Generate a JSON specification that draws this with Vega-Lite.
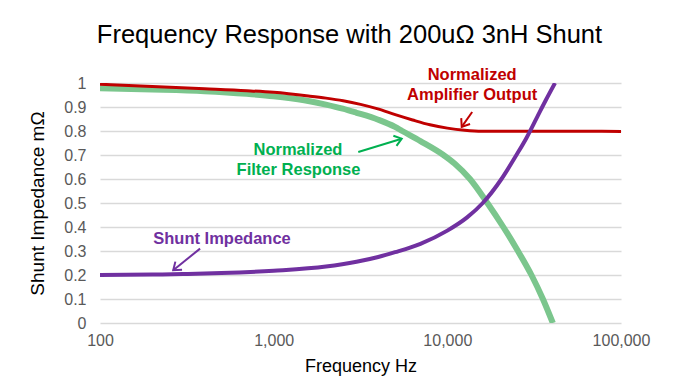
{
  "$schema": "https://vega.github.io/schema/vega-lite/v6.json",
  "width": 521,
  "height": 240,
  "autosize": {"type": "none"},
  "padding": {"left": 100, "top": 83, "right": 66, "bottom": 69},
  "background": "white",
  "config": {"font": "Liberation Sans", "view": {"stroke": null}},
  "title": {"text": "Frequency Response with 200uΩ 3nH Shunt", "fontSize": 25.5, "fontWeight": "normal", "color": "#000000", "anchor": "middle", "dx": -11, "offset": 19},
  "datasets": {
    "curves": [
      {"series": "amp", "f": 100, "v": 0.995},
      {"series": "amp", "f": 200, "v": 0.985},
      {"series": "amp", "f": 400, "v": 0.976},
      {"series": "amp", "f": 700, "v": 0.968},
      {"series": "amp", "f": 1000, "v": 0.961},
      {"series": "amp", "f": 1585, "v": 0.946},
      {"series": "amp", "f": 2000, "v": 0.937},
      {"series": "amp", "f": 2512, "v": 0.926},
      {"series": "amp", "f": 3162, "v": 0.911},
      {"series": "amp", "f": 3981, "v": 0.892},
      {"series": "amp", "f": 5012, "v": 0.868},
      {"series": "amp", "f": 6310, "v": 0.846},
      {"series": "amp", "f": 7943, "v": 0.826},
      {"series": "amp", "f": 10000, "v": 0.812},
      {"series": "amp", "f": 12589, "v": 0.803},
      {"series": "amp", "f": 15849, "v": 0.799},
      {"series": "amp", "f": 20000, "v": 0.799},
      {"series": "amp", "f": 50000, "v": 0.799},
      {"series": "amp", "f": 100000, "v": 0.798},
      {"series": "filter", "f": 100, "v": 0.978},
      {"series": "filter", "f": 200, "v": 0.973},
      {"series": "filter", "f": 400, "v": 0.966},
      {"series": "filter", "f": 700, "v": 0.955},
      {"series": "filter", "f": 1000, "v": 0.945},
      {"series": "filter", "f": 1500, "v": 0.928},
      {"series": "filter", "f": 2000, "v": 0.91},
      {"series": "filter", "f": 2500, "v": 0.893},
      {"series": "filter", "f": 3000, "v": 0.876},
      {"series": "filter", "f": 4000, "v": 0.847},
      {"series": "filter", "f": 5000, "v": 0.817},
      {"series": "filter", "f": 5500, "v": 0.8},
      {"series": "filter", "f": 7000, "v": 0.758},
      {"series": "filter", "f": 9500, "v": 0.7},
      {"series": "filter", "f": 11000, "v": 0.665},
      {"series": "filter", "f": 13500, "v": 0.6},
      {"series": "filter", "f": 17000, "v": 0.5},
      {"series": "filter", "f": 21000, "v": 0.4},
      {"series": "filter", "f": 25500, "v": 0.3},
      {"series": "filter", "f": 30500, "v": 0.2},
      {"series": "filter", "f": 35500, "v": 0.1},
      {"series": "filter", "f": 40500, "v": 0.0},
      {"series": "shunt", "f": 100, "v": 0.2},
      {"series": "shunt", "f": 200, "v": 0.202},
      {"series": "shunt", "f": 300, "v": 0.204},
      {"series": "shunt", "f": 500, "v": 0.208},
      {"series": "shunt", "f": 1000, "v": 0.218},
      {"series": "shunt", "f": 2000, "v": 0.235},
      {"series": "shunt", "f": 3000, "v": 0.255},
      {"series": "shunt", "f": 4000, "v": 0.275},
      {"series": "shunt", "f": 5000, "v": 0.295},
      {"series": "shunt", "f": 7000, "v": 0.33},
      {"series": "shunt", "f": 10000, "v": 0.385},
      {"series": "shunt", "f": 13000, "v": 0.44},
      {"series": "shunt", "f": 16000, "v": 0.5},
      {"series": "shunt", "f": 20500, "v": 0.6},
      {"series": "shunt", "f": 25000, "v": 0.7},
      {"series": "shunt", "f": 28500, "v": 0.77},
      {"series": "shunt", "f": 33000, "v": 0.86},
      {"series": "shunt", "f": 37000, "v": 0.93},
      {"series": "shunt", "f": 41700, "v": 1.0}
    ],
    "notes": [
      {"series": "amp", "label": "Normalized", "f": 13900, "v": 1.032},
      {"series": "amp", "label": "Amplifier Output", "f": 13900, "v": 0.949},
      {"series": "filter", "label": "Normalized", "f": 1380, "v": 0.72},
      {"series": "filter", "label": "Filter Response", "f": 1390, "v": 0.636},
      {"series": "shunt", "label": "Shunt Impedance", "f": 504, "v": 0.352}
    ],
    "arrows": [
      {"series": "amp", "f": 12100, "v": 0.817, "f2": 13900, "v2": 0.879},
      {"series": "filter", "f": 5460, "v": 0.768, "f2": 3070, "v2": 0.7125},
      {"series": "shunt", "f": 264, "v": 0.22, "f2": 377, "v2": 0.31}
    ]
  },
  "encoding": {
    "x": {
      "field": "f", "type": "quantitative",
      "scale": {"type": "log", "domain": [100, 100000]},
      "axis": {"values": [100, 1000, 10000, 100000], "format": ",", "title": "Frequency Hz", "grid": false, "ticks": false, "domain": false, "labelFlush": false, "labelFontSize": 16, "labelColor": "#595959", "labelPadding": 9, "titleFontSize": 18, "titleFontWeight": "normal", "titleColor": "#000000", "titlePadding": 9}
    },
    "y": {
      "field": "v", "type": "quantitative",
      "scale": {"domain": [0, 1]},
      "axis": {"values": [0, 0.1, 0.2, 0.3, 0.4, 0.5, 0.6, 0.7, 0.8, 0.9, 1], "format": ".1~f", "title": "Shunt Impedance mΩ", "grid": true, "gridColor": "#D9D9D9", "gridWidth": 1.5, "ticks": false, "domain": false, "labelFlush": false, "labelFontSize": 16, "labelColor": "#595959", "labelPadding": 14, "titleFontSize": 19, "titleFontWeight": "normal", "titleColor": "#000000", "titlePadding": 16}
    }
  },
  "layer": [
    {
      "data": {"name": "curves"},
      "transform": [{"filter": "datum.series == 'filter'"}],
      "mark": {"type": "line", "color": "#7BC68D", "strokeWidth": 6, "interpolate": "monotone", "clip": true}
    },
    {
      "data": {"name": "curves"},
      "transform": [{"filter": "datum.series == 'amp'"}],
      "mark": {"type": "line", "color": "#C00000", "strokeWidth": 3, "interpolate": "monotone", "clip": true}
    },
    {
      "data": {"name": "curves"},
      "transform": [{"filter": "datum.series == 'shunt'"}],
      "mark": {"type": "line", "color": "#7030A0", "strokeWidth": 4, "interpolate": "monotone", "clip": true}
    },
    {
      "data": {"name": "arrows"},
      "mark": {"type": "rule", "strokeWidth": 2},
      "encoding": {
        "x2": {"field": "f2"},
        "y2": {"field": "v2"},
        "color": {"field": "series", "type": "nominal", "scale": {"domain": ["amp", "filter", "shunt"], "range": ["#C00000", "#00B050", "#7030A0"]}, "legend": null}
      }
    },
    {
      "data": {"name": "arrows"},
      "transform": [{"filter": "datum.series == 'amp'"}],
      "mark": {"type": "point", "shape": "M-1,-0.75L0,0L-1,0.75", "filled": false, "strokeWidth": 2, "size": 200, "angle": 123.7, "opacity": 1},
      "encoding": {"color": {"field": "series", "type": "nominal", "legend": null}}
    },
    {
      "data": {"name": "arrows"},
      "transform": [{"filter": "datum.series == 'filter'"}],
      "mark": {"type": "point", "shape": "M-1,-0.75L0,0L-1,0.75", "filled": false, "strokeWidth": 2, "size": 200, "angle": 342.8, "opacity": 1},
      "encoding": {"color": {"field": "series", "type": "nominal", "legend": null}}
    },
    {
      "data": {"name": "arrows"},
      "transform": [{"filter": "datum.series == 'shunt'"}],
      "mark": {"type": "point", "shape": "M-1,-0.75L0,0L-1,0.75", "filled": false, "strokeWidth": 2, "size": 200, "angle": 140.9, "opacity": 1},
      "encoding": {"color": {"field": "series", "type": "nominal", "legend": null}}
    },
    {
      "data": {"name": "notes"},
      "mark": {"type": "text", "fontSize": 16.5, "fontWeight": "bold", "align": "center", "baseline": "middle", "clip": false},
      "encoding": {
        "text": {"field": "label"},
        "color": {"field": "series", "type": "nominal", "legend": null}
      }
    }
  ]
}
